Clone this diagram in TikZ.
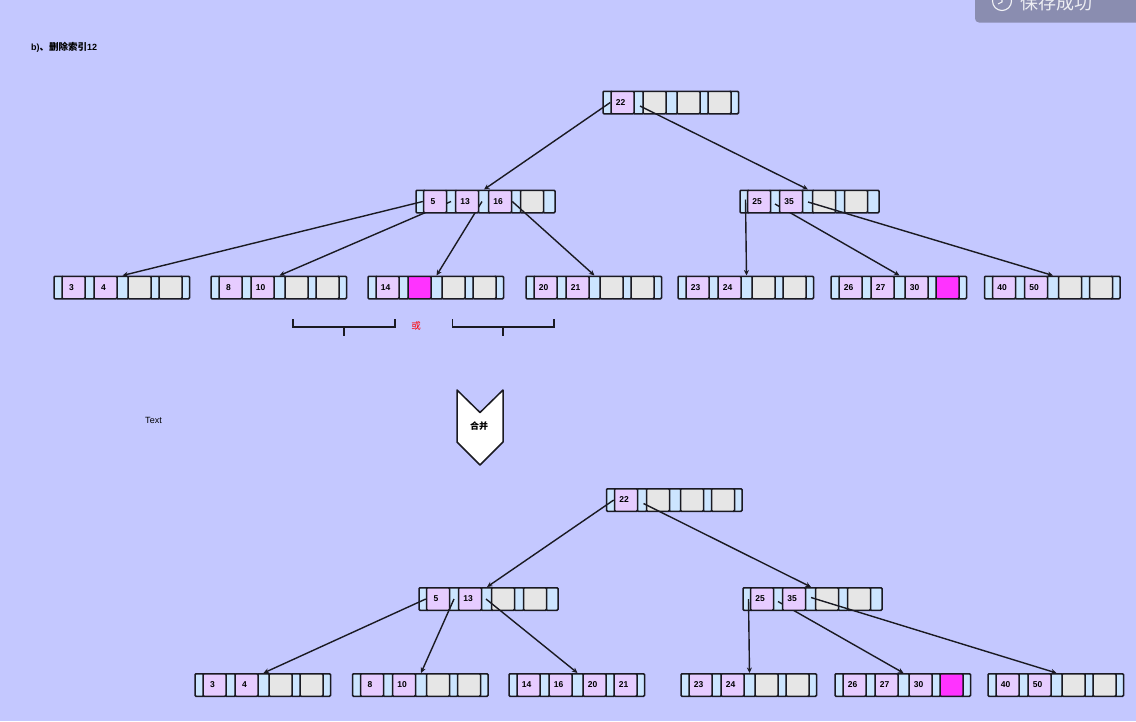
\documentclass[tikz,border=0pt]{standalone}
\usepackage{fontspec}
\setmainfont{Liberation Sans}
\newfontfamily\cjk{Noto Sans CJK SC}
\usetikzlibrary{arrows.meta}
\pgfdeclarelayer{front}
\pgfsetlayers{main,front}
\definecolor{bgc}{RGB}{196,200,255}
\definecolor{ptrc}{RGB}{204,229,255}
\definecolor{keyc}{RGB}{230,204,255}
\definecolor{emptyc}{RGB}{230,230,230}
\definecolor{hotc}{RGB}{255,51,255}
\definecolor{toastc}{RGB}{138,141,176}
\definecolor{inkc}{RGB}{26,26,34}
\tikzset{
  cell/.style={draw=inkc,line width=1.5pt,rounded corners=1pt,inner sep=0pt,minimum height=22.5pt},
  ptrcell/.style={cell,fill=ptrc},
  keycell/.style={cell,fill=keyc,minimum width=23pt,label={[font=\bfseries\fontsize{8.5}{9}\selectfont,text=black,inner sep=0pt,anchor=center,xshift=-2pt]center:#1}},
  hotcell/.style={cell,fill=hotc,minimum width=23pt},
  emptycell/.style={cell,fill=emptyc,minimum width=23pt},
  link/.style={draw=inkc,line width=1.4pt,-{Stealth[length=5.5pt,width=5pt]}},
  plain/.style={draw=inkc,line width=1.5pt},
  bracket/.style={draw=inkc,line width=1.9pt},
}
% cell makers: purple key cells lie above the links, all others below
\newcommand\kc[4]{\begin{pgfonlayer}{front}\node[keycell=#1] (#2) at (#3,#4) {};\end{pgfonlayer}}
\newcommand\ec[3]{\node[emptycell] (#1) at (#2,#3) {};}
\newcommand\hc[3]{\node[hotcell] (#1) at (#2,#3) {};}
% root and leaf nodes, 135 wide
\newcommand\bnode[7]{%
  \node[ptrcell,minimum width=9pt]  (#1p0) at (#2+4.5,#3+11.5) {};
  \node[ptrcell,minimum width=10pt] (#1p1) at (#2+35.5,#3+11.5) {};
  \node[ptrcell,minimum width=12pt] (#1p2) at (#2+68.5,#3+11.5) {};
  \node[ptrcell,minimum width=9pt]  (#1p3) at (#2+101,#3+11.5) {};
  \node[ptrcell,minimum width=9pt]  (#1p4) at (#2+131,#3+11.5) {};
  #4{#1k1}{#2+19.5}{#3+11.5}
  #5{#1k2}{#2+51.5}{#3+11.5}
  #6{#1k3}{#2+85.5}{#3+11.5}
  #7{#1k4}{#2+116.5}{#3+11.5}
}
% middle nodes, 139 wide
\newcommand\wnode[7]{%
  \node[ptrcell,minimum width=9pt]  (#1p0) at (#2+4.5,#3+11.5) {};
  \node[ptrcell,minimum width=11pt] (#1p1) at (#2+35,#3+11.5) {};
  \node[ptrcell,minimum width=12pt] (#1p2) at (#2+68,#3+11.5) {};
  \node[ptrcell,minimum width=10pt] (#1p3) at (#2+100,#3+11.5) {};
  \node[ptrcell,minimum width=12pt] (#1p4) at (#2+133,#3+11.5) {};
  #4{#1k1}{#2+19}{#3+11.5}
  #5{#1k2}{#2+51}{#3+11.5}
  #6{#1k3}{#2+84}{#3+11.5}
  #7{#1k4}{#2+116}{#3+11.5}
}
\begin{document}
\begin{tikzpicture}[x=1pt,y=-1pt]
\useasboundingbox (0,0) rectangle (1136,721);
\clip (0,0) rectangle (1136,721);
\fill[bgc] (0,0) rectangle (1136,721);
% toast
\fill[toastc,rounded corners=4pt] (975,-20) rectangle (1146,22.5);
\draw[white!90!toastc,line width=1.1pt] (1002,1) circle[radius=9.5];
\draw[white!90!toastc,line width=1.1pt] (1002,-3)--(1002,2)--(998,4);
\node[anchor=center,inner sep=0pt,text=white!85!toastc,font=\cjk\fontsize{18}{19}\selectfont] (toast) at (1056.5,2.5) {保存成功};
% labels
\node[anchor=west,inner sep=0pt,font=\bfseries\fontsize{9}{10}\selectfont] (title) at (31,47) {b){\cjk\fontsize{9.5}{10}\selectfont 、删除索引}12};
\node[anchor=center,inner sep=0pt,font=\fontsize{9}{10}\selectfont] (textlabel) at (153.5,420.5) {Text};
\node[anchor=center,inner sep=0pt,text=red,font=\cjk\fontsize{9.5}{10}\selectfont] (orlabel) at (416,326) {或};
% upper tree
\bnode{r}{603}{91}{\kc{22}}{\ec}{\ec}{\ec}
\wnode{l}{416}{190}{\kc{5}}{\kc{13}}{\kc{16}}{\ec}
\wnode{m}{740}{190}{\kc{25}}{\kc{35}}{\ec}{\ec}
\bnode{a}{54}{276}{\kc{3}}{\kc{4}}{\ec}{\ec}
\bnode{b}{211}{276}{\kc{8}}{\kc{10}}{\ec}{\ec}
\bnode{c}{368}{276}{\kc{14}}{\hc}{\ec}{\ec}
\bnode{d}{526}{276}{\kc{20}}{\kc{21}}{\ec}{\ec}
\bnode{f}{678}{276}{\kc{23}}{\kc{24}}{\ec}{\ec}
\bnode{g}{831}{276}{\kc{26}}{\kc{27}}{\kc{30}}{\hc}
\bnode{i}{984.5}{276}{\kc{40}}{\kc{50}}{\ec}{\ec}
% lower tree
\bnode{R}{606.5}{488.5}{\kc{22}}{\ec}{\ec}{\ec}
\wnode{L}{419}{587.5}{\kc{5}}{\kc{13}}{\ec}{\ec}
\wnode{M}{743}{587.5}{\kc{25}}{\kc{35}}{\ec}{\ec}
\bnode{A}{195}{673.5}{\kc{3}}{\kc{4}}{\ec}{\ec}
\bnode{B}{352.5}{673.5}{\kc{8}}{\kc{10}}{\ec}{\ec}
\bnode{C}{509}{673.5}{\kc{14}}{\kc{16}}{\kc{20}}{\kc{21}}
\bnode{F}{681}{673.5}{\kc{23}}{\kc{24}}{\ec}{\ec}
\bnode{G}{835}{673.5}{\kc{26}}{\kc{27}}{\kc{30}}{\hc}
\bnode{I}{988}{673.5}{\kc{40}}{\kc{50}}{\ec}{\ec}
% upper links
\draw[link] (rk1.west) -- (lp2.north);
\draw[link] ([xshift=1.5pt,yshift=-3.5pt]rp1.center) -- (mp2.north);
\draw[link] (lk1.west) -- (ap2.north);
\draw[link] (lp1.center) -- (bp2.north);
\draw[link] ([xshift=-2pt]lp2.center) -- (cp2.north);
\draw[link] (lk3.east) -- (dp2.north);
\draw[link] ([xshift=1pt,yshift=2pt]mp0.center) -- (fp2.north);
\draw[link] ([yshift=-2.5pt]mp1.center) -- (gp2.north);
\draw[link] ([yshift=-0.5pt]mp2.center) -- (ip2.north);
% lower links
\draw[link] (Rk1.west) -- (Lp2.north);
\draw[link] ([xshift=1.5pt,yshift=-3.5pt]Rp1.center) -- (Mp2.north);
\draw[link] (Lk1.west) -- (Ap2.north);
\draw[link] (Lp1.center) -- (Bp2.north);
\draw[link] ([xshift=-1pt]Lp2.center) -- (Cp2.north);
\draw[link] ([xshift=1pt]Mp0.center) -- (Fp2.north);
\draw[link] ([yshift=-2.5pt]Mp1.center) -- (Gp2.north);
\draw[link] ([yshift=1.5pt]Mp2.center) -- (Ip2.north);
% brackets
\draw[bracket] (293,319) -- (293,327) -- (395,327) -- (395,319);
\draw[bracket] (344,327) -- (344,336);
\draw[bracket] (452.5,319) -- (452.5,327) -- (554,327) -- (554,319);
\draw[bracket] (503,327) -- (503,336);
% chevron
\draw[plain,fill=white,line join=round] (457,390) -- (480,412.5) -- (503,390) -- (503,442) -- (480,465) -- (457,442) -- cycle;
\node[anchor=center,inner sep=0pt,font=\cjk\bfseries\fontsize{9}{10}\selectfont] (merge) at (479,426.5) {合并};
\end{tikzpicture}
\end{document}
